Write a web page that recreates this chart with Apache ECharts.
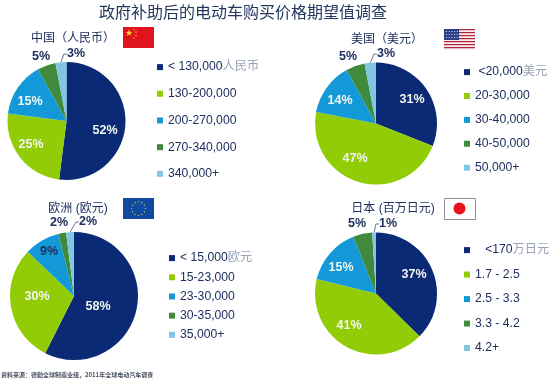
<!DOCTYPE html>
<html><head><meta charset="utf-8">
<style>html,body{margin:0;padding:0;background:#fff}#c{width:550px;height:379px}</style>
<script src="https://cdn.jsdelivr.net/npm/echarts@6/dist/echarts.min.js"></script>
</head><body><div id="c"></div>
<script>
const chartTitle = '政府补助后的电动车购买价格期望值调查';
const sourceNote = '资料来源：德勤全球制造业组，2011年全球电动汽车调查';
const colors = ['#0b2a75','#92cc06','#1399d8','#3f8a3c','#82c6e4'];

const chinaCats = ['< 130,000|人民币','130-200,000','200-270,000','270-340,000','340,000+'];
const chinaVals = [52,25,15,5,3];
const usaCats = [' <20,000|美元','20-30,000','30-40,000','40-50,000','50,000+'];
const usaVals = [31,47,14,5,3];
const euCats = ['< 15,000|欧元','15-23,000','23-30,000','30-35,000','35,000+'];
const euVals = [58,30,9,2,2];
const japanCats = ['   <170|万日元','1.7 - 2.5','2.5 - 3.3','3.3 - 4.2','4.2+'];
const japanVals = [37,41,15,5,1];

const navy = '#1f2f60';
const panels = [
  {head:'中国（人民币）', hx:73, hy:39, cats:chinaCats, vals:chinaVals, c:[66.5,121], r:59,
   leg:[157,61], gap:26.5, lab:[[105,131],[31,145],[30,102],[41,57],[76,54]], dark:[3,4], line:[4]},
  {head:'美国（美元）', hx:387, hy:40, cats:usaCats, vals:usaVals, c:[376,123.5], r:61,
   leg:[464,66], gap:23.7, lab:[[412,100],[355,159],[340,101],[348,57],[386,54]], dark:[3,4], line:[4]},
  {head:'欧洲 (欧元)', hx:78, hy:209, cats:euCats, vals:euVals, c:[74,296], r:64,
   leg:[169,252], gap:19, lab:[[98,307],[37,297],[49,252],[59,223],[88,222]], dark:[2,3,4], line:[4]},
  {head:'日本 (百万日元)', hx:393, hy:209, cats:japanCats, vals:japanVals, c:[376,293.5], r:61,
   leg:[464,244], gap:24.3, lab:[[414,275],[349,326],[341,268],[357,224],[388,224]], dark:[3,4], line:[4]}
];

function star(cx,cy,r,fill,rot){
  const pts=[];
  for(let i=0;i<10;i++){
    const a=(rot||0)-Math.PI/2+i*Math.PI/5, rr=i%2?r*0.42:r;
    pts.push([cx+rr*Math.cos(a),cy+rr*Math.sin(a)]);
  }
  return {type:'polygon',shape:{points:pts},style:{fill},silent:true};
}
const rect=(x,y,w,h,fill,extra)=>({type:'rect',shape:{x,y,width:w,height:h},style:Object.assign({fill},extra||{}),silent:true});

const flags=[];
// China
flags.push(rect(123,27,31,21,'#e0141c'));
flags.push(star(129,33,3.4,'#ffd92a'));
[[134,29.5],[136,32],[136,35.5],[134,38]].forEach(p=>flags.push(star(p[0],p[1],1.1,'#ffd92a')));
// USA
for(let i=0;i<7;i++){
  flags.push(rect(444,29+i*3,31,1.5,'#b5243a'));
  flags.push(rect(444,30.5+i*3,31,1.5,'#f4eef0'));
}
flags.push(rect(444,29,15,11,'#2d3f86'));
for(let r=0;r<3;r++)for(let k=0;k<5;k++)flags.push(rect(446+k*2.7,31+r*3,1,1,'#d8dcf0'));
// EU
flags.push(rect(123,198,31,21,'#0f4aa0'));
for(let i=0;i<12;i++){
  const a=i*Math.PI/6;
  flags.push(star(138.5+6.8*Math.cos(a),208.5+6.8*Math.sin(a),1,'#f2d840'));
}
// Japan
flags.push(rect(444.5,198.5,31,21,'#ffffff',{stroke:'#8a8f9a',lineWidth:1}));
flags.push({type:'circle',shape:{cx:459.5,cy:208.5,r:6},style:{fill:'#e8131d'},silent:true});

const cjk='Liberation Sans, Noto Sans CJK SC';
const option={
  animation:false,
  backgroundColor:'#fff',
  title:[
    {text:chartTitle,left:243,top:4,padding:0,textAlign:'center',textStyle:{fontFamily:'Noto Sans CJK SC',fontSize:16,fontWeight:'normal',color:'#24375f'}},
    {text:sourceNote,left:1,top:372,padding:0,textStyle:{fontFamily:'Noto Sans CJK SC',fontSize:6,fontWeight:'bold',color:'#4a5260'}}
  ].concat(panels.map(p=>({text:p.head,left:p.hx,top:p.hy-8,padding:0,textAlign:'center',
    textStyle:{fontFamily:cjk,fontSize:12,fontWeight:'normal',color:navy,lineHeight:16}}))),
  legend:panels.map(p=>({
    left:p.leg[0],top:p.leg[1],orient:'vertical',selectedMode:false,
    icon:'rect',itemWidth:6,itemHeight:6,itemGap:p.gap-12,padding:0,
    data:p.cats,
    formatter:n=>{const s=n.split('|');return s.length>1?'{a|'+s[0]+'}{b|'+s[1]+'}':'{a|'+s[0]+'}';},
    textStyle:{rich:{
      a:{fontFamily:cjk,fontSize:12.2,color:navy,lineHeight:14},
      b:{fontFamily:cjk,fontSize:12.2,color:'#98a2b4',lineHeight:14}
    }}
  })),
  series:panels.map(p=>({
    type:'pie',silent:true,center:p.c,radius:[0,p.r],startAngle:90,clockwise:true,
    avoidLabelOverlap:false,
    itemStyle:{borderColor:'#fff',borderWidth:0},
    labelLine:{show:false},
    labelLayout:params=>({x:p.lab[params.dataIndex][0],y:p.lab[params.dataIndex][1],align:'center',verticalAlign:'middle'}),
    data:p.vals.map((v,i)=>({
      name:p.cats[i],value:v,
      itemStyle:{color:colors[i]},
      labelLine:{show:p.line.includes(i),length:3,length2:3,lineStyle:{color:'#6b7a90',width:1}},
      label:{show:true,position:p.line.includes(i)||p.dark.includes(i)?'outside':'inside',formatter:'{c}%',
        fontFamily:'Liberation Sans',fontSize:12.5,fontWeight:'bold',
        color:(p.dark.includes(i)||(p===panels[2]&&i===2))?navy:'#f2f6ee'}
    }))
  })),
  graphic:flags
};
const chart=echarts.init(document.getElementById('c'),null,{renderer:'canvas'});
chart.setOption(option);
</script></body></html>
